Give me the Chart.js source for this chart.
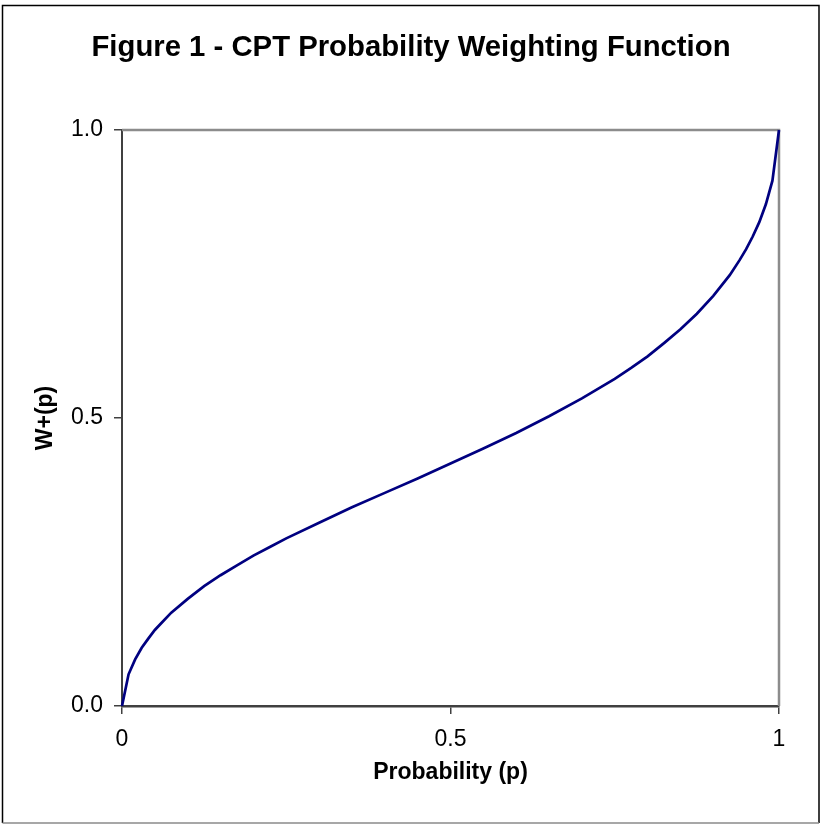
<!DOCTYPE html>
<html>
<head>
<meta charset="utf-8">
<script src="https://cdn.jsdelivr.net/npm/chart.js@4.4.1/dist/chart.umd.min.js"></script>
<style>
  html, body { margin: 0; padding: 0; background: #ffffff; }
  #wrap { width: 821px; height: 825px; position: relative; }
</style>
</head>
<body>
<div id="wrap"><canvas id="c" width="821" height="825"></canvas></div>
<script>
// Probability values (x)
const probability = [0, 0.01, 0.02, 0.03, 0.04, 0.05, 0.06, 0.075, 0.1, 0.125, 0.15, 0.175, 0.2, 0.225, 0.25,
                     0.3, 0.35, 0.4, 0.45, 0.5, 0.55, 0.6, 0.65, 0.7, 0.75, 0.775, 0.8, 0.825, 0.85, 0.875,
                     0.9, 0.925, 0.94, 0.95, 0.96, 0.97, 0.98, 0.99, 1];
// Weighted probability W+(p)
const weight = [0, 0.055, 0.081, 0.101, 0.117, 0.132, 0.144, 0.162, 0.186, 0.208, 0.227, 0.244, 0.261, 0.276, 0.291,
                0.318, 0.345, 0.370, 0.395, 0.421, 0.447, 0.474, 0.503, 0.534, 0.568, 0.587, 0.607, 0.630, 0.654, 0.681,
                0.712, 0.748, 0.774, 0.793, 0.815, 0.840, 0.871, 0.912, 1];
const xTicks = ["0", "0.5", "1"];
const yTicks = ["0.0", "0.5", "1.0"];
const titleText = "Figure 1 - CPT Probability Weighting Function";
const xTitle = "Probability (p)";
const yTitle = "W+(p)";

const points = probability.map((p, i) => ({ x: p, y: weight[i] }));
const FONT = "'Liberation Sans', Arial, Helvetica, sans-serif";

const framePlugin = {
  id: 'frame',
  beforeDraw(chart) {
    const ctx = chart.ctx;
    ctx.save();
    ctx.fillStyle = '#ffffff';
    ctx.fillRect(0, 0, chart.width, chart.height);
    ctx.lineWidth = 1.5;
    ctx.strokeStyle = '#000000';
    ctx.beginPath();
    ctx.moveTo(2.5, 823);
    ctx.lineTo(2.5, 5.5);
    ctx.lineTo(819, 5.5);
    ctx.lineTo(819, 823);
    ctx.stroke();
    ctx.strokeStyle = '#8a8a8a';
    ctx.beginPath();
    ctx.moveTo(2.5, 823);
    ctx.lineTo(819, 823);
    ctx.stroke();
    ctx.restore();
  },
  beforeDatasetsDraw(chart) {
    const a = chart.chartArea;
    const ctx = chart.ctx;
    ctx.save();
    ctx.strokeStyle = '#8c8c8c';
    ctx.lineWidth = 2.5;
    ctx.beginPath();
    ctx.moveTo(a.left, a.top);
    ctx.lineTo(a.right, a.top);
    ctx.lineTo(a.right, a.bottom);
    ctx.stroke();
    ctx.restore();
  }
};

new Chart(document.getElementById('c'), {
  type: 'line',
  data: {
    datasets: [{
      data: points,
      borderColor: '#000080',
      borderWidth: 2.7,
      pointRadius: 0,
      tension: 0,
      fill: false,
      clip: 4
    }]
  },
  options: {
    responsive: false,
    animation: false,
    devicePixelRatio: 1,
    layout: { padding: { left: 43, right: 42, top: 0, bottom: 0 } },
    plugins: {
      legend: { display: false },
      tooltip: { enabled: false },
      title: {
        display: true,
        text: titleText,
        color: '#000000',
        font: { family: FONT, size: 29.3, weight: 'bold', lineHeight: 1.2 },
        padding: { top: 30, bottom: 64.8 }
      }
    },
    scales: {
      x: {
        type: 'linear',
        min: 0, max: 1,
        afterFit(scale) { scale.height = 119; },
        afterBuildTicks(scale) { scale.ticks = [0, 0.5, 1].map(v => ({ value: v })); },
        ticks: {
          color: '#000000',
          font: { family: FONT, size: 23 },
          padding: 12,
          maxRotation: 0,
          callback: (v, i) => xTicks[i]
        },
        grid: { drawOnChartArea: false, drawTicks: true, tickLength: 8, color: '#404040', lineWidth: 1.5 },
        border: { display: true, color: '#404040', width: 2.5 },
        title: {
          display: true, text: xTitle, color: '#000000',
          font: { family: FONT, size: 23, weight: 'bold', lineHeight: 1.2 },
          padding: { top: 0, bottom: 39 }
        }
      },
      y: {
        type: 'linear',
        min: 0, max: 1,
        afterFit(scale) { scale.width = 79; },
        afterBuildTicks(scale) { scale.ticks = [0, 0.5, 1].map(v => ({ value: v })); },
        ticks: {
          color: '#000000',
          font: { family: FONT, size: 23 },
          padding: 11,
          callback: (v, i) => yTicks[i]
        },
        grid: { drawOnChartArea: false, drawTicks: true, tickLength: 8, color: '#404040', lineWidth: 1.5 },
        border: { display: true, color: '#404040', width: 2 },
        title: {
          display: true, text: yTitle, color: '#000000',
          font: { family: FONT, size: 23, weight: 'bold', lineHeight: 1.2 },
          padding: { top: -10.8, bottom: 0 }
        }
      }
    }
  },
  plugins: [framePlugin]
});
</script>
</body>
</html>
